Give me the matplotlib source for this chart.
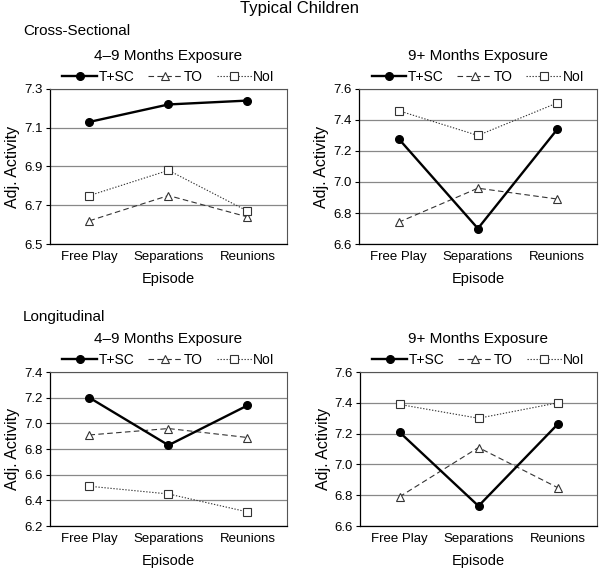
import matplotlib
matplotlib.use("Agg")
import matplotlib.pyplot as plt
from matplotlib.ticker import FormatStrFormatter

plt.rcParams["font.family"] = ["Liberation Sans", "DejaVu Sans"]

episodes = ["Free Play", "Separations", "Reunions"]

# cross-sectional
cs_49_tsc = [7.13, 7.22, 7.24]
cs_49_to = [6.62, 6.75, 6.64]
cs_49_noi = [6.75, 6.88, 6.67]
cs_9p_tsc = [7.28, 6.70, 7.34]
cs_9p_to = [6.74, 6.96, 6.89]
cs_9p_noi = [7.46, 7.30, 7.51]

# longitudinal
lo_49_tsc = [7.20, 6.83, 7.14]
lo_49_to = [6.91, 6.96, 6.89]
lo_49_noi = [6.51, 6.45, 6.31]
lo_9p_tsc = [7.21, 6.73, 7.26]
lo_9p_to = [6.79, 7.11, 6.85]
lo_9p_noi = [7.39, 7.30, 7.40]

panels = [
    ("4\u20139 Months Exposure", cs_49_tsc, cs_49_to, cs_49_noi, (6.5, 7.3)),
    ("9+ Months Exposure", cs_9p_tsc, cs_9p_to, cs_9p_noi, (6.6, 7.6)),
    ("4\u20139 Months Exposure", lo_49_tsc, lo_49_to, lo_49_noi, (6.2, 7.4)),
    ("9+ Months Exposure", lo_9p_tsc, lo_9p_to, lo_9p_noi, (6.6, 7.6)),
]

positions = [
    [0.0833, 0.5704, 0.395, 0.273],
    [0.598, 0.5704, 0.397, 0.273],
    [0.0833, 0.0739, 0.395, 0.271],
    [0.600, 0.0739, 0.395, 0.271],
]

fig = plt.figure(figsize=(6.0, 5.68), dpi=100)

for pos, (title, tsc, to, noi, ylim) in zip(positions, panels):
    ax = fig.add_axes(pos)
    x = range(len(episodes))
    ax.plot(x, tsc, color="black", lw=1.7, marker="o", ms=5.5,
            label="T+SC", zorder=4)
    ax.plot(x, to, color="#333333", lw=0.8, ls=(0, (5, 3)), marker="^",
            ms=6, mfc="white", mec="#333333", mew=0.8, label="TO", zorder=3)
    ax.plot(x, noi, color="#333333", lw=0.8, ls=(0, (1.2, 1.5)), marker="s",
            ms=5.5, mfc="white", mec="#333333", mew=0.8, label="NoI", zorder=3)
    ax.set_xlim(-0.5, 2.5)
    ax.set_ylim(*ylim)
    n = int(round((ylim[1] - ylim[0]) / 0.2))
    ax.set_yticks([ylim[0] + 0.2 * i for i in range(n + 1)])
    ax.yaxis.set_major_formatter(FormatStrFormatter("%.1f"))
    ax.set_xticks(list(x))
    ax.set_xticklabels(episodes)
    ax.tick_params(axis="x", length=0, pad=5, labelsize=9.5)
    ax.tick_params(axis="y", length=3, width=0.8, labelsize=9.5, pad=2)
    ax.grid(axis="y", color="#888888", lw=0.9)
    ax.set_axisbelow(True)
    for s in ["top", "right"]:
        ax.spines[s].set_color("#555555")
        ax.spines[s].set_linewidth(0.8)
    for s in ["left", "bottom"]:
        ax.spines[s].set_color("black")
        ax.spines[s].set_linewidth(0.9)
    ax.set_ylabel("Adj. Activity", fontsize=11.5, labelpad=3)
    ax.set_xlabel("Episode", fontsize=10.5, labelpad=6.5)
    ax.set_title(title, fontsize=11, pad=21)
    ax.legend(loc="lower center", bbox_to_anchor=(0.5, 0.99), ncol=3,
              frameon=False, fontsize=10, handlelength=2.5,
              handletextpad=0.1, columnspacing=1.0, borderaxespad=0.1)

fig.text(0.5, 0.999, "Typical Children", ha="center", va="top", fontsize=12)
fig.text(0.038, 0.945, "Cross-Sectional", ha="left", va="center", fontsize=11)
fig.text(0.038, 0.442, "Longitudinal", ha="left", va="center", fontsize=11)

fig.savefig("out.png", dpi=100)
